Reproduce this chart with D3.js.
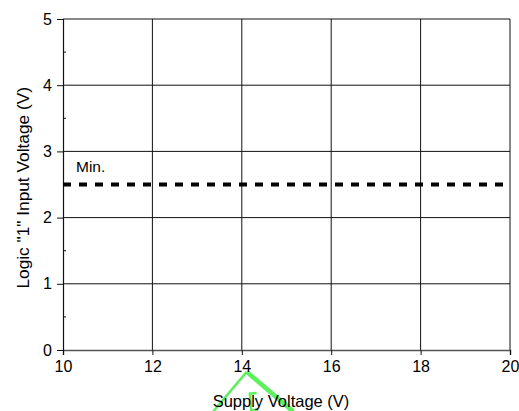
<!DOCTYPE html>
<html>
<head>
<meta charset="utf-8">
<script src="https://cdn.jsdelivr.net/npm/d3@7"></script>
<style>
  body { margin: 0; background: #fff; }
  svg text { font-family: "Liberation Sans", Arial, sans-serif; fill: #000; }
</style>
</head>
<body>
<div id="chart"></div>
<script>
// tick values and the one reference level (min. logic "1" input)
const xTicks = [10, 12, 14, 16, 18, 20]
const yTicks = [0, 1, 2, 3, 4, 5]
const yMinor = [0.5, 1.5, 2.5, 3.5, 4.5]
const minLevel = [{ x0: 10, x1: 20, y: 2.5, label: "Min." }]
// stray green pen mark over the x title, in data units
const penMark = [[13.36, -0.93], [14.11, -0.33], [15.15, -0.93]]
const penStub = [[14.33, -0.65], [14.18, -0.66], [14.21, -0.91], [14.37, -0.91]]

const width = 519, height = 411
const margin = { top: 19, right: 9, bottom: 61, left: 63 }

const svg = d3.select("#chart").append("svg")
  .attr("width", width)
  .attr("height", height)

const x = d3.scaleLinear().domain([10, 20]).range([margin.left, width - margin.right])
const y = d3.scaleLinear().domain([0, 5]).range([height - margin.bottom, margin.top])

// grid
svg.append("g").selectAll("line")
  .data(xTicks.slice(1))
  .join("line")
  .attr("x1", d => x(d)).attr("x2", d => x(d))
  .attr("y1", y(0)).attr("y2", y(5))
  .attr("stroke", "#111").attr("stroke-width", 1)

svg.append("g").selectAll("line")
  .data(yTicks.slice(1))
  .join("line")
  .attr("x1", x(10)).attr("x2", x(20))
  .attr("y1", d => y(d)).attr("y2", d => y(d))
  .attr("stroke", "#111").attr("stroke-width", 1)

// green pen mark (under the text)
const line = d3.line().x(d => x(d[0])).y(d => y(d[1]))
svg.append("path")
  .attr("d", line(penMark.slice(0, 2)))
  .attr("fill", "none").attr("stroke", "#5cf05c").attr("stroke-width", 2.5)
svg.append("path")
  .attr("d", line(penMark.slice(1)))
  .attr("fill", "none").attr("stroke", "#5cf05c").attr("stroke-width", 4.5)
svg.append("path")
  .attr("d", line(penStub))
  .attr("fill", "none").attr("stroke", "#5cf05c").attr("stroke-width", 2.5)

// x axis
const xAxis = svg.append("g")
  .attr("transform", `translate(0,${y(0)})`)
  .call(d3.axisBottom(x).tickValues(xTicks).tickSize(5).tickPadding(6).tickFormat(d3.format("d")))
xAxis.select(".domain").attr("stroke", "#555").attr("stroke-width", 1.5)
xAxis.selectAll(".tick line").attr("stroke", "#111")
xAxis.selectAll("text").style("font-size", "16px").attr("fill", "#000")

// y axis
const yAxis = svg.append("g")
  .attr("transform", `translate(${x(10)},0)`)
  .call(d3.axisLeft(y).tickValues(yTicks).tickSize(6).tickPadding(5).tickFormat(d3.format("d")))
yAxis.select(".domain").attr("stroke", "#111").attr("stroke-width", 1.2)
yAxis.selectAll(".tick line").attr("stroke", "#111")
yAxis.selectAll("text").style("font-size", "16px").attr("fill", "#000")

svg.append("g").selectAll("line")
  .data(yMinor)
  .join("line")
  .attr("x1", x(10)).attr("x2", x(10) + 3)
  .attr("y1", d => y(d)).attr("y2", d => y(d))
  .attr("stroke", "#111")

// dashed min level
svg.append("g").selectAll("line")
  .data(minLevel)
  .join("line")
  .attr("x1", d => x(d.x0)).attr("x2", d => x(d.x1))
  .attr("y1", d => y(d.y)).attr("y2", d => y(d.y))
  .attr("stroke", "#000")
  .attr("stroke-width", 4)
  .attr("stroke-dasharray", "8,8")

svg.append("g").selectAll("text")
  .data(minLevel)
  .join("text")
  .attr("x", d => x(d.x0) + 13)
  .attr("y", d => y(d.y) - 13)
  .style("font-size", "15.5px")
  .text(d => d.label)

// axis titles
svg.append("text")
  .attr("x", 281)
  .attr("y", 407)
  .attr("text-anchor", "middle")
  .style("font-size", "16.5px")
  .text("Supply Voltage (V)")

svg.append("text")
  .attr("transform", `translate(29,${y(2.45)}) rotate(-90)`)
  .attr("text-anchor", "middle")
  .style("font-size", "17.3px")
  .text("Logic \"1\" Input Voltage (V)")
</script>
</body>
</html>
